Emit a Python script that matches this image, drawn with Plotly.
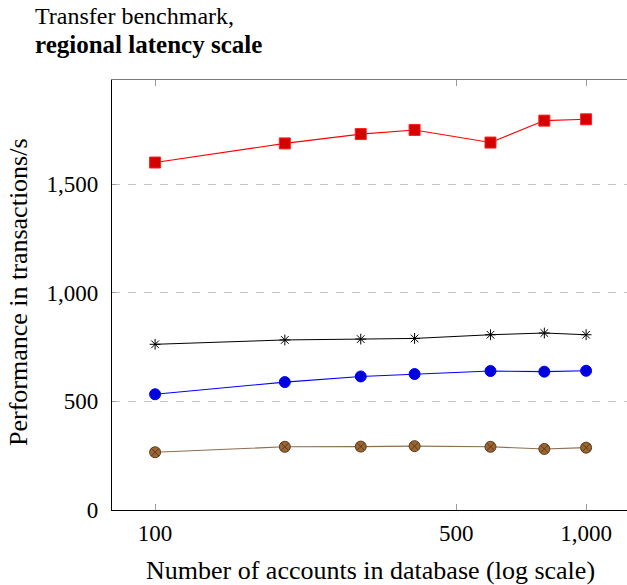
import plotly.graph_objects as go

# Number of accounts in the database (x, log scale)
accounts = [100, 200, 300, 400, 600, 800, 1000]

# Throughput per configuration, transactions/s
series_red = [1600, 1688, 1731, 1750, 1692, 1793, 1799]
series_black = [763, 783, 787, 790, 807, 815, 807]
series_blue = [533, 589, 615, 626, 640, 637, 641]
series_brown = [266, 291, 292, 294, 291, 281, 287]

x_tickvals = [100, 500, 1000]
x_ticktext = ["100", "500", "1,000"]
y_tickvals = [0, 500, 1000, 1500]
y_ticktext = ["0", "500", "1,000", "1,500"]

FONT = "Liberation Serif"

fig = go.Figure()

fig.add_trace(go.Scatter(
    x=accounts, y=series_red, mode="lines+markers",
    line=dict(color="#ff0000", width=1.1),
    marker=dict(symbol="square", size=11, color="#d40000",
                line=dict(color="#ff2020", width=1)),
    showlegend=False))

fig.add_trace(go.Scatter(
    x=accounts, y=series_black, mode="lines+markers",
    line=dict(color="#000000", width=1),
    marker=dict(symbol="asterisk-open", size=9,
                line=dict(color="#000000", width=1)),
    showlegend=False))

fig.add_trace(go.Scatter(
    x=accounts, y=series_blue, mode="lines+markers",
    line=dict(color="#0000ff", width=1.1),
    marker=dict(symbol="circle", size=11, color="#0000dd",
                line=dict(color="#0000ff", width=1)),
    showlegend=False))

fig.add_trace(go.Scatter(
    x=accounts, y=series_brown, mode="lines+markers",
    line=dict(color="#8c6e50", width=1.1),
    marker=dict(symbol="circle-x", size=11, color="#9c6633",
                line=dict(color="#5a3a1a", width=1)),
    showlegend=False))

# Mirror axis along the top: grey frame with inward ticks
fig.add_trace(go.Scatter(
    x=accounts, y=series_red, xaxis="x2", mode="none",
    showlegend=False, hoverinfo="skip"))

L, T, B = 112, 80, 75
W, H = 627, 585
pw = W - L
ph = H - T - B

fig.update_layout(
    width=W, height=H,
    margin=dict(l=L, r=0, t=T, b=B, pad=0),
    paper_bgcolor="white", plot_bgcolor="white",
    font=dict(family=FONT, size=23, color="black"),
    xaxis=dict(
        type="log", range=[1.9, 3.0949],
        tickvals=x_tickvals, ticktext=x_ticktext,
        ticks="inside", ticklen=6, tickcolor="#9a9a9a", tickwidth=1,
        showline=True, linecolor="black", linewidth=1.2,
        showgrid=False, zeroline=False,
        tickfont=dict(family=FONT, size=23),
        ticklabelstandoff=2,
    ),
    xaxis2=dict(
        type="log", range=[1.9, 3.0949], overlaying="x", side="top",
        tickvals=x_tickvals, ticks="inside", ticklen=6,
        tickcolor="#9a9a9a", tickwidth=1, showticklabels=False,
        showline=True, linecolor="#7a7a7a", linewidth=1.3,
        showgrid=False, zeroline=False,
    ),
    yaxis=dict(
        range=[0, 1980],
        tickvals=y_tickvals, ticktext=y_ticktext,
        ticks="inside", ticklen=4, tickcolor="#9a9a9a", tickwidth=1,
        showline=True, linecolor="black", linewidth=1.2,
        showgrid=True, gridcolor="#c4c4c4", gridwidth=1,
        griddash="8px,8px", zeroline=False,
        tickfont=dict(family=FONT, size=23),
        ticklabelstandoff=8,
    ),
)

def px_x(x):
    return (x - L) / pw

def px_y(y):
    return (H - B - y) / ph

annotations = [
    dict(text="Transfer benchmark,", x=px_x(33), y=px_y(16),
         xanchor="left", yanchor="middle",
         font=dict(family=FONT, size=24)),
    dict(text="<b>regional latency scale</b>", x=px_x(33), y=px_y(44),
         xanchor="left", yanchor="middle",
         font=dict(family=FONT, size=25)),
    dict(text="Number of accounts in database (log scale)",
         x=px_x(370), y=px_y(570), xanchor="center", yanchor="middle",
         font=dict(family=FONT, size=26)),
    dict(text="Performance in transactions/s", textangle=-90,
         x=px_x(18), y=px_y(292), xanchor="center", yanchor="middle",
         font=dict(family=FONT, size=26)),
]
for a in annotations:
    a.update(xref="paper", yref="paper", showarrow=False)
fig.update_layout(annotations=annotations)

fig.write_html("out.html")
